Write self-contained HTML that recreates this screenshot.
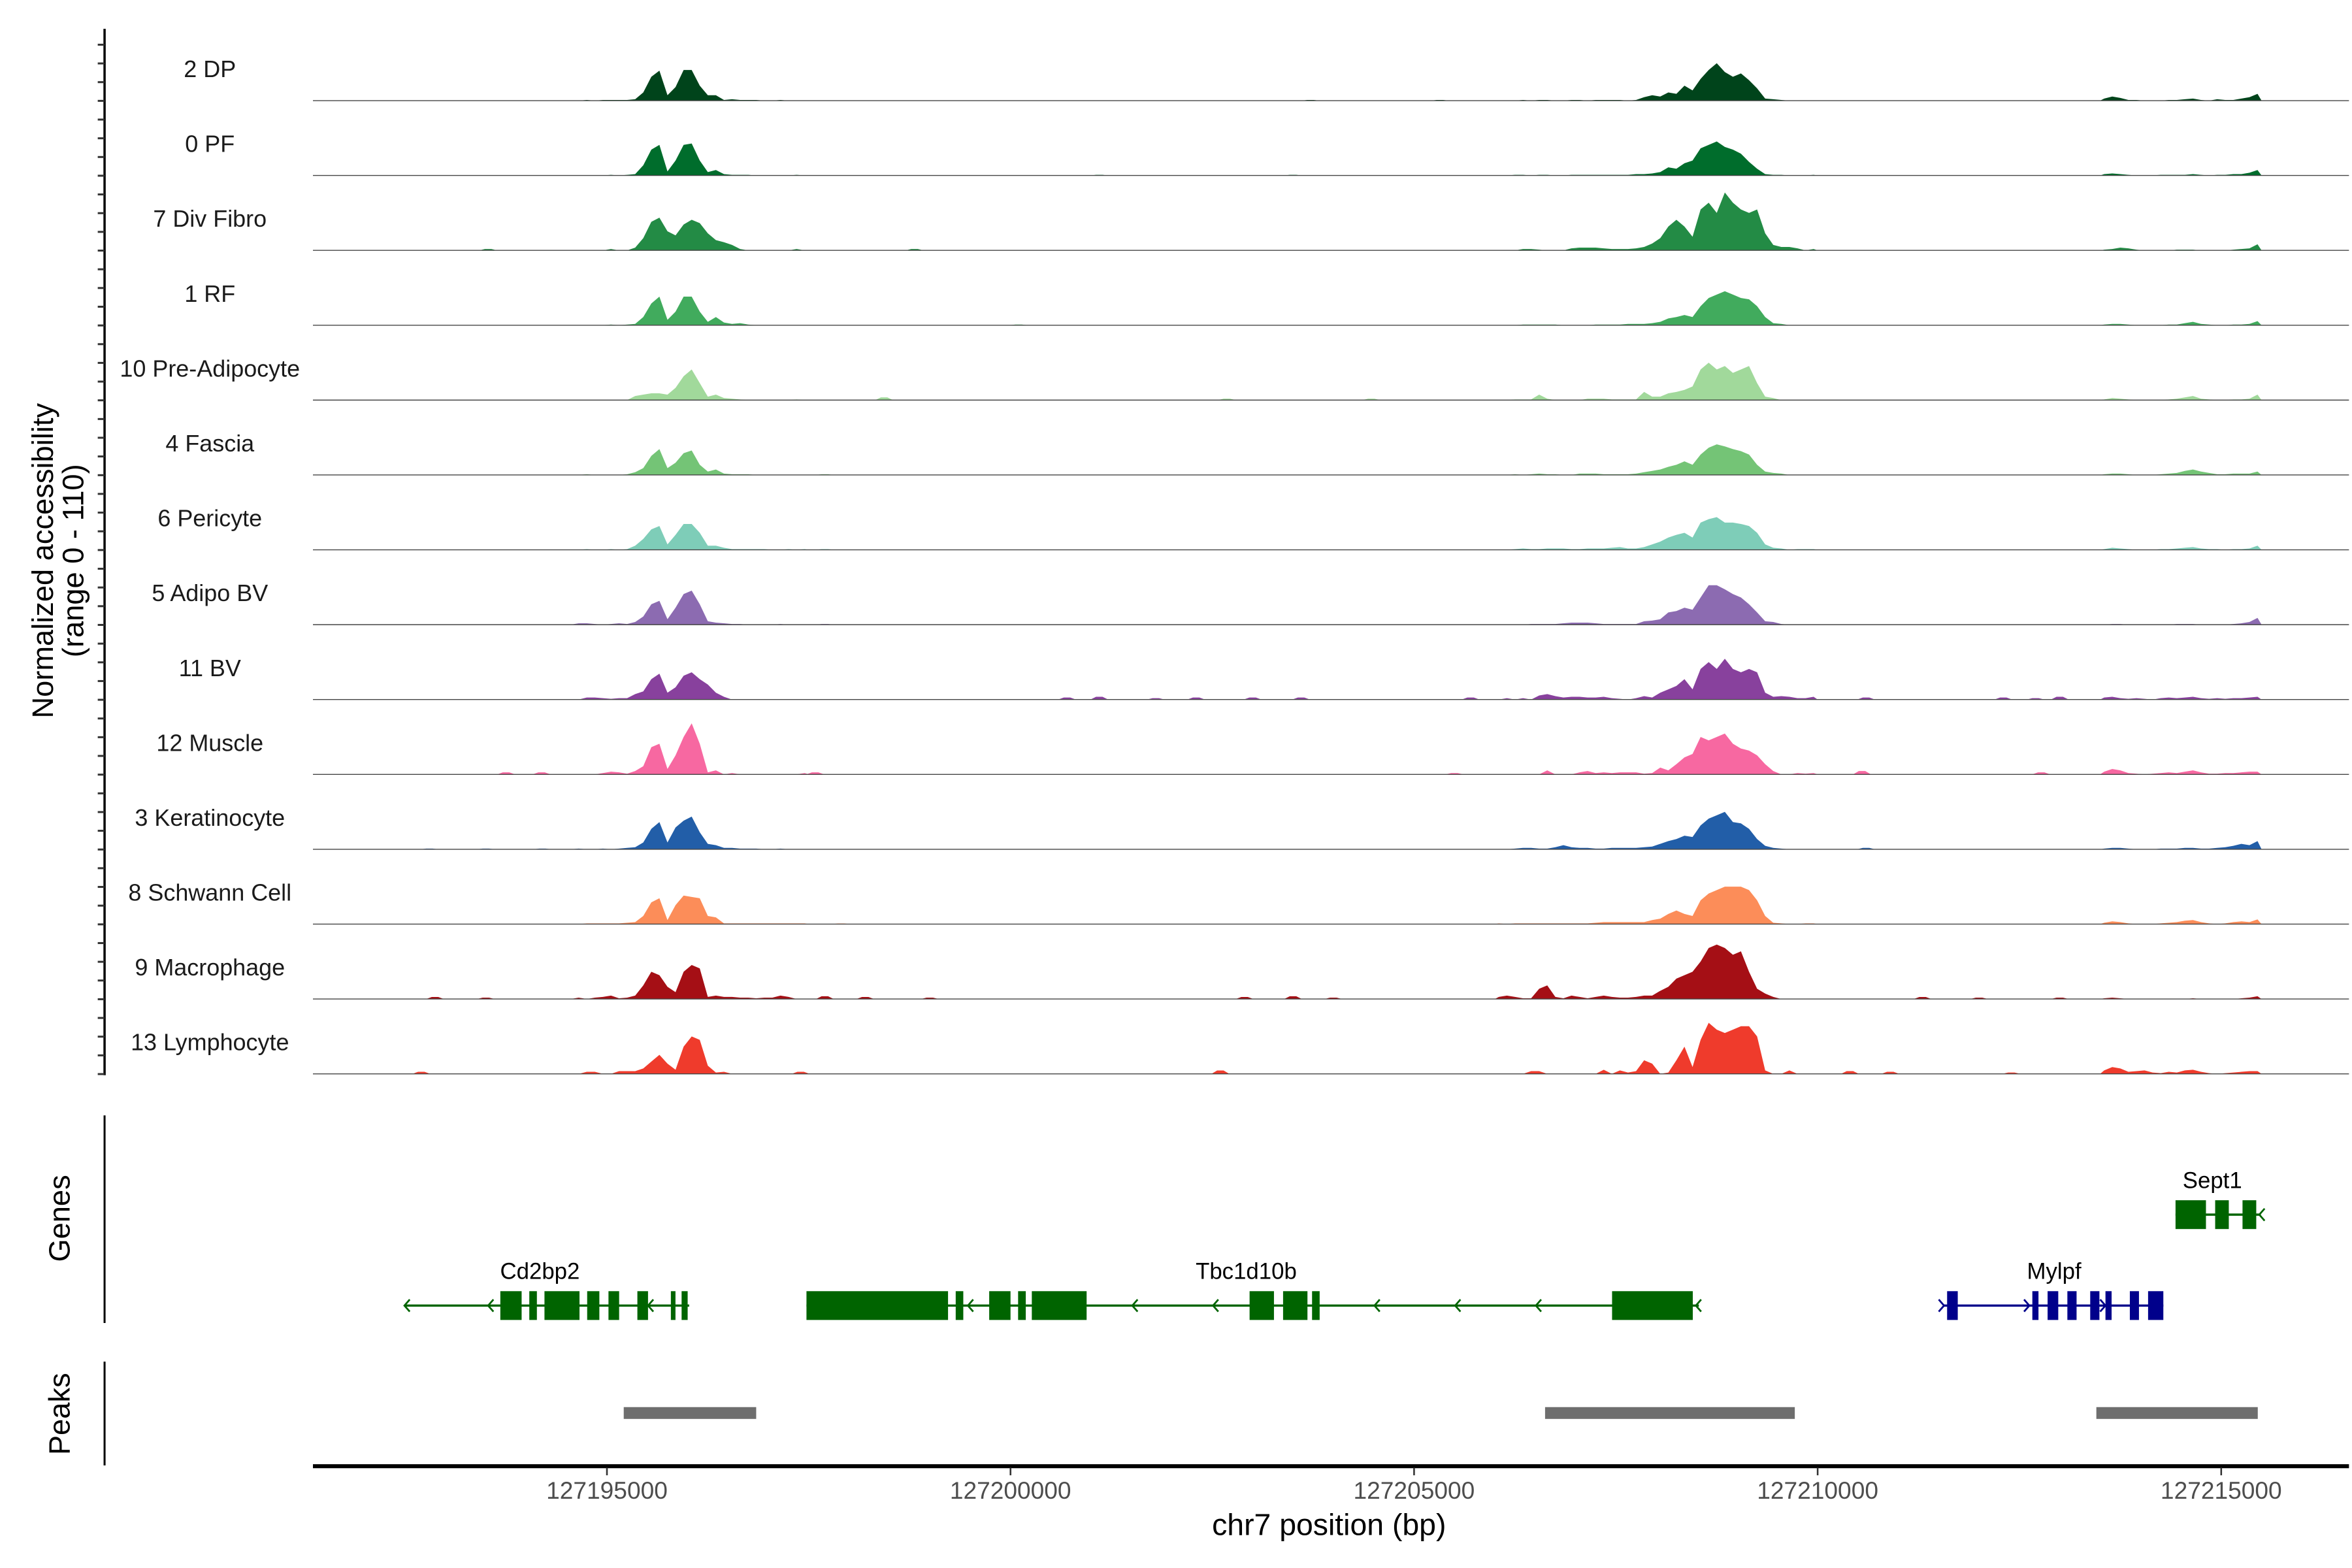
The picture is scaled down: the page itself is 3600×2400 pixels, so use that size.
<!DOCTYPE html>
<html><head><meta charset="utf-8"><style>
html,body{margin:0;padding:0;background:#fff;}
svg{display:block;font-family:"Liberation Sans",Arial,sans-serif;}
</style></head><body>
<svg id="chart" xmlns="http://www.w3.org/2000/svg" width="3600" height="2400" viewBox="0 0 1552 1034.67">
<rect x="0" y="0" width="1552" height="1035" fill="#fff"/>
<g id="tracks"></g>
<g id="genes"></g>
<g id="peaks"></g>
<g id="axes"></g>
</svg>
<script>
// ---- data ----
const clusters = ["2 DP","0 PF","7 Div Fibro","1 RF","10 Pre-Adipocyte","4 Fascia","6 Pericyte","5 Adipo BV","11 BV","12 Muscle","3 Keratinocyte","8 Schwann Cell","9 Macrophage","13 Lymphocyte"];
const colors = ["#00441b","#006d2c","#238b45","#41ab5d","#a1d99b","#74c476","#7ecdb8","#8c6bb1","#88419d","#f768a1","#225ea8","#fc8d59","#a50f15","#ef3b2c"];
const regionAStart = 127194500, regionBStart = 127206000, regionCStart = 127213500, binSize = 100;
const regionA = [
[0,0,1,0,1,1,1,1,2,12,35,44,8,20,45,45,22,8,8,1,2,1,1,1,0,0,1,0,0,0],
[0,0,0,0,0,1,0,1,2,15,38,45,6,22,45,47,22,5,8,2,1,1,1,0,0,0,0,0,1,0],
[0,0,0,0,0,2,0,0,4,18,42,48,28,22,38,45,40,25,15,12,8,2,0,0,0,0,0,0,2,0],
[0,0,0,0,0,1,0,1,2,12,32,42,8,20,42,42,20,5,12,4,2,3,1,0,0,0,0,0,0,0],
[0,0,0,0,0,0,0,0,6,8,10,10,8,18,35,45,25,5,8,3,2,1,0,0,0,0,0,0,1,0],
[0,0,1,0,0,0,0,1,4,10,28,38,10,18,32,36,15,5,8,2,1,1,1,0,0,0,0,0,0,0],
[0,0,1,0,0,1,0,1,6,16,30,35,8,22,38,38,25,6,6,3,1,1,1,1,1,0,0,1,0,1],
[0,2,2,1,0,1,2,1,4,12,30,35,8,25,45,50,30,5,3,2,1,1,0,0,0,0,1,0,0,0],
[0,0,3,3,2,1,2,2,8,12,30,38,10,18,35,40,30,22,10,4,0,0,0,0,0,0,0,0,0,0],
[0,0,0,0,2,4,3,1,5,12,40,45,8,28,55,75,45,3,6,0,2,0,0,0,0,0,0,0,0,2],
[0,1,0,0,1,0,1,2,3,10,30,40,10,32,42,48,25,8,6,2,2,1,1,1,0,0,1,0,0,0],
[0,0,1,1,1,1,1,2,3,12,32,38,6,28,42,40,38,12,10,1,1,1,1,1,1,1,1,1,1,1],
[0,2,0,2,3,5,1,2,5,20,40,35,18,10,40,50,45,3,5,3,3,2,2,1,2,2,5,3,0,0],
[0,0,3,3,0,0,4,4,4,8,18,28,15,6,40,55,50,12,2,3,0,0,0,0,0,0,0,0,0,0]
];
const regionB = [
[0,0,0,1,0,1,1,0,0,1,1,0,1,1,1,1,0,1,5,8,6,12,10,22,15,32,45,55,42,35,40,30,18,3,2,1,0,0,0,0],
[0,0,1,1,0,1,1,0,0,1,1,1,1,1,1,1,1,2,2,3,5,12,10,18,22,40,45,50,42,38,32,20,10,2,1,1,0,0,0,1],
[0,0,0,2,2,1,0,0,0,3,4,4,4,3,2,2,2,3,5,10,18,35,45,35,20,60,70,55,85,70,60,55,60,25,8,5,5,3,0,2],
[0,0,0,1,1,1,1,1,0,0,0,0,1,1,1,1,2,2,2,3,5,10,12,15,12,28,40,45,50,45,40,38,28,12,3,2,0,0,0,0],
[0,0,1,1,1,8,2,0,0,0,0,2,2,2,1,1,1,1,12,5,5,10,12,15,20,45,55,45,50,40,45,50,25,5,3,0,0,0,0,0],
[0,0,1,0,1,2,1,1,0,0,2,2,2,1,1,1,1,2,4,6,8,12,15,20,15,30,40,45,42,38,35,30,15,5,3,2,0,0,0,0],
[0,0,1,2,1,1,2,2,2,1,1,2,2,2,3,4,2,2,4,8,12,18,22,25,18,40,45,48,40,40,38,35,25,8,3,2,0,1,1,1],
[0,0,0,0,1,1,1,1,2,3,3,3,2,1,1,1,1,1,5,6,8,18,20,25,22,40,58,58,52,45,40,30,18,5,4,1,0,0,0,0],
[0,2,0,2,0,6,8,5,3,4,4,3,3,4,2,1,0,2,5,3,10,15,20,30,15,45,55,45,60,45,40,45,40,10,4,5,4,2,2,4],
[0,0,0,0,0,0,6,0,0,0,3,5,2,3,2,3,3,3,1,2,10,6,15,25,30,55,50,55,60,45,38,35,28,15,5,0,0,2,1,2],
[0,0,1,2,2,1,1,3,6,3,2,2,1,1,2,2,2,2,3,4,8,12,15,20,18,35,45,50,55,40,38,30,15,5,2,1,0,0,0,0],
[1,0,1,1,1,1,1,1,1,1,1,1,2,3,3,3,3,3,3,6,8,15,20,15,12,35,45,50,55,55,55,50,35,12,2,1,0,0,1,1],
[3,5,3,1,1,15,20,3,1,5,3,1,3,5,3,2,2,3,5,5,12,18,30,35,40,55,75,80,75,65,70,40,15,8,3,0,0,0,0,0],
[0,0,0,0,4,4,0,0,0,0,0,0,0,6,0,5,2,4,20,15,0,2,20,40,10,50,75,65,60,65,70,70,55,5,0,0,5,0,0,0]
];
const regionC = [
[3,6,4,1,1,0,0,0,1,1,2,3,1,0,2,1,1,3,5,10],
[2,3,2,1,0,0,0,1,1,1,1,2,1,0,1,1,2,2,4,8],
[1,2,4,3,1,0,0,0,0,1,1,1,0,0,0,0,1,2,3,9],
[1,2,2,1,0,0,0,0,1,1,3,5,2,1,0,0,1,1,2,6],
[1,3,2,1,0,0,0,0,1,2,4,6,2,1,0,0,1,1,2,8],
[1,2,2,1,0,0,0,1,2,3,6,8,5,3,1,1,2,2,2,5],
[1,3,2,1,0,0,0,1,1,2,3,4,2,1,1,0,1,1,2,6],
[0,1,1,0,0,0,0,0,0,1,1,1,0,0,0,0,1,2,4,10],
[3,4,2,1,2,1,0,2,3,2,3,4,2,1,2,1,2,2,3,4],
[4,8,6,2,1,0,1,2,3,2,4,6,3,1,1,2,2,3,4,4],
[1,2,2,1,0,0,0,1,1,1,2,2,1,1,2,3,5,8,6,12],
[2,4,3,1,0,0,0,1,2,3,5,6,3,1,0,1,3,4,3,7],
[1,2,1,0,0,0,0,0,0,0,0,1,0,0,0,0,0,1,2,4],
[5,10,8,3,4,5,2,1,3,2,5,6,3,1,0,1,2,3,4,4]
];
const blipPos = [
[127203717,127205320],
[127201100,127203500],
[127193528,127198811],
[127200100],
[127198434,127202680,127204470],
[127197700],
[127197700],
[127197700],
[127200700,127201100,127201800,127202300,127203000,127203600,127205700,127210600,127212300,127212700,127213000],
[127193750,127194190,127197580,127205500,127210550,127212770],
[127192800,127193500,127194200,127210600],
[127197900],
[127192870,127193500,127197700,127198200,127199000,127202900,127203500,127204000,127211300,127212000,127213000],
[127192700,127197400,127202600,127210400,127210900,127212400]
];
const blipVal = [
[1,1],[1,1],[2,2],[1],[4,2,2],[1],[1],[1],
[3,4,2,3,3,3,3,3,3,2,4],
[3,3,3,2,5,3],
[1,1,1,2],[1],
[3,2,4,3,2,3,4,2,3,2,2],
[3,3,5,4,3,2]
];
const xTicks = [127195000,127200000,127205000,127210000,127215000];
const xTickLabels = ["127195000","127200000","127205000","127210000","127215000"];
const peakStarts = [127195208,127206623,127213453];
const peakEnds = [127196849,127209717,127215453];
const geneNames = ["Cd2bp2","Tbc1d10b","Mylpf","Sept1"];
const geneStrand = ["-","-","+","-"];
const geneStart = [127192491,127197472,127211566,127214434];
const geneEnd = [127196019,127208528,127214283,127215491];
const geneExonStarts = [
[127193679,127194038,127194226,127194755,127195019,127195377,127195792,127195925],
[127197472,127199321,127199736,127200094,127200264,127202962,127203377,127203736,127207453],
[127211604,127212660,127212849,127213094,127213377,127213566,127213868,127214094],
[127214434,127214925,127215264]];
const geneExonEnds = [
[127193943,127194132,127194660,127194906,127195151,127195509,127195849,127196000],
[127199226,127199415,127200000,127200189,127200943,127203264,127203679,127203830,127208453],
[127211736,127212736,127212981,127213208,127213491,127213642,127213981,127214283],
[127214811,127215094,127215434]];
const geneArrows = [
[127192491,127193528,127195509],
[127199472,127201509,127202509,127204509,127205509,127206509,127208491],
[127211566,127212623,127213566],
[127215472]];
const geneRow = [1,1,1,0];
const geneLabelPos = [127194170,127202920,127212930,127214890];
const geneColor = ["#006400","#006400","#00008b","#006400"];

// ---- scales ----
const NS="http://www.w3.org/2000/svg";
const X0=400.5, BP0=127195000, PXBP=0.05326;
function xs(bp){return X0+(bp-BP0)*PXBP;}
const plotL=206.5, plotR=1550;
const TRK=49.4;
function baseY(k){return 66.4+TRK*k;}
function hs(v){return v*TRK/110;}
function mk(tag,attrs,parent){const e=document.createElementNS(NS,tag);for(const k in attrs)e.setAttribute(k,attrs[k]);parent.appendChild(e);return e;}

const tracks=document.getElementById('tracks');
clusters.forEach((name,k)=>{
  const g=mk('g',{},tracks);
  
  
  const by=baseY(k);
  const regions=[[regionAStart,regionA[k]],[regionBStart,regionB[k]],[regionCStart,regionC[k]]];
  regions.forEach(([start,vals])=>{
    let d='M'+xs(start).toFixed(2)+','+by;
    vals.forEach((v,i)=>{d+=' L'+xs(start+binSize*i+binSize/2).toFixed(2)+','+(by-hs(v)).toFixed(2);});
    d+=' L'+xs(start+binSize*vals.length).toFixed(2)+','+by+' Z';
    const p=mk('path',{d:d,fill:colors[k]},g);
    
    
  });
  blipPos[k].forEach((bp,i)=>{
    const h=hs(blipVal[k][i]);
    const d='M'+xs(bp-110)+','+by+' L'+xs(bp-40)+','+(by-h)+' L'+xs(bp+40)+','+(by-h)+' L'+xs(bp+110)+','+by+' Z';
    const p=mk('path',{d:d,fill:colors[k]},g);
    
    
  });
  const ln=mk('line',{x1:plotL,x2:plotR,y1:by,y2:by,stroke:'#444','stroke-width':0.6},g);
  
  
  const t=mk('text',{x:138.5,y:by-15.5,'text-anchor':'middle','font-size':15.5,fill:'#1a1a1a'},g);
  t.textContent=name;
  
  
});

// ---- y axis ----
const axes=document.getElementById('axes');
mk('line',{x1:69,x2:69,y1:19,y2:709.5,stroke:'#000','stroke-width':1.5},axes);
for(let y=29.5;y<=709;y+=TRK/4){mk('line',{x1:64.5,x2:69,y1:y,y2:y,stroke:'#333','stroke-width':1.3},axes);}
const yt=mk('text',{transform:'translate(35,370) rotate(-90)','text-anchor':'middle','font-size':19.5,fill:'#000'},axes);
yt.textContent='Normalized accessibility';


const yt2=mk('text',{transform:'translate(55,370) rotate(-90)','text-anchor':'middle','font-size':19.5,fill:'#000'},axes);
yt2.textContent='(range 0 - 110)';



// ---- genes ----
const genes=document.getElementById('genes');
mk('line',{x1:69,x2:69,y1:736,y2:873,stroke:'#000','stroke-width':1.3},genes);
const gt=mk('text',{transform:'translate(46,804) rotate(-90)','text-anchor':'middle','font-size':19.5,fill:'#000'},genes);
gt.textContent='Genes';


geneNames.forEach((nm,gi)=>{
  const g=mk('g',{},genes);
  
  
  const cy=geneRow[gi]===1?861.5:801.5;
  const c=geneColor[gi];
  mk('line',{x1:xs(geneStart[gi]),x2:xs(geneEnd[gi]),y1:cy,y2:cy,stroke:c,'stroke-width':1.5},g);
  geneExonStarts[gi].forEach((s,i)=>{
    mk('rect',{x:xs(s),y:cy-9.5,width:Math.max(1.5,xs(geneExonEnds[gi][i])-xs(s)),height:19,fill:c},g);
  });
  geneArrows[gi].forEach(a=>{
    const ax=xs(a), dir=geneStrand[gi]==='-'?1:-1;
    mk('polyline',{points:(ax+3.5*dir)+','+(cy-4)+' '+ax+','+cy+' '+(ax+3.5*dir)+','+(cy+4),fill:'none',stroke:c,'stroke-width':1.2},g);
  });
  const lt=mk('text',{x:xs(geneLabelPos[gi]),y:cy-17.5,'text-anchor':'middle','font-size':15,fill:'#000'},g);
  lt.textContent=nm;
  
  
});

// ---- peaks ----
const peaks=document.getElementById('peaks');
mk('line',{x1:69,x2:69,y1:898.5,y2:967,stroke:'#000','stroke-width':1.3},peaks);
const pt=mk('text',{transform:'translate(46,933) rotate(-90)','text-anchor':'middle','font-size':19.5,fill:'#000'},peaks);
pt.textContent='Peaks';


peakStarts.forEach((s,i)=>{
  const r=mk('rect',{x:xs(s),y:928.5,width:xs(peakEnds[i])-xs(s),height:7.8,fill:'#6e6e6e'},peaks);
  
  
});

// ---- x axis ----
mk('line',{x1:plotL,x2:plotR,y1:967.5,y2:967.5,stroke:'#000','stroke-width':2.6},axes);
xTicks.forEach((t,i)=>{
  const x=xs(t);
  mk('line',{x1:x,x2:x,y1:968.5,y2:973.5,stroke:'#333','stroke-width':1.1},axes);
  const tl=mk('text',{x:x,y:989,'text-anchor':'middle','font-size':16,fill:'#4d4d4d'},axes);
  tl.textContent=xTickLabels[i];
  
  
});
const xt=mk('text',{x:877,y:1013,'text-anchor':'middle','font-size':20,fill:'#000'},axes);
xt.textContent='chr7 position (bp)';


</script>
</body></html>
